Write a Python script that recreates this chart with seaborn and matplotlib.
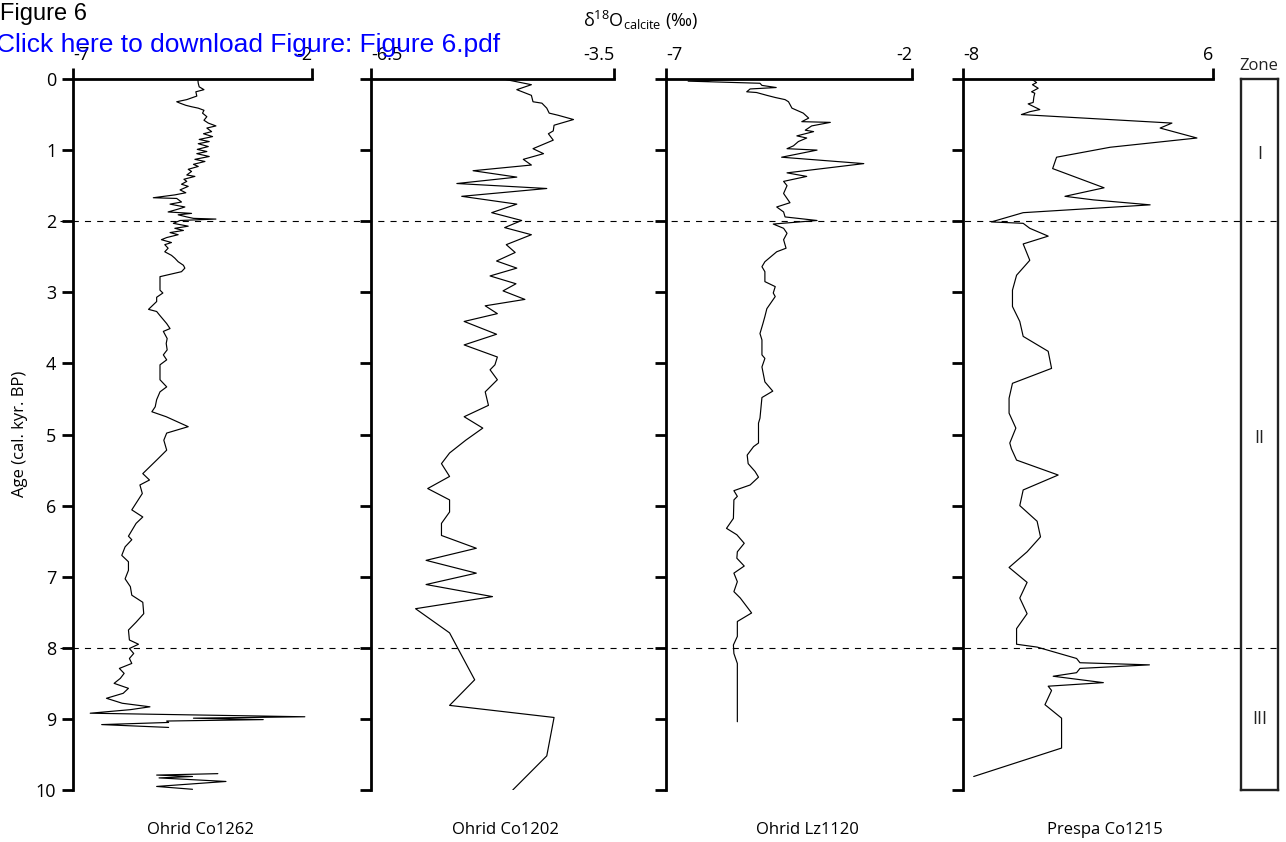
import numpy as np
import pandas as pd
import matplotlib
matplotlib.use("Agg")
import matplotlib.pyplot as plt
import seaborn as sns

# ---------------- data ----------------
co1262_age = [0.00, 0.06, 0.11, 0.15, 0.18, 0.24, 0.29, 0.32, 0.34, 0.37, 0.39, 0.41, 0.44, 0.48, 0.53,
              0.58, 0.62, 0.66, 0.69, 0.74, 0.77, 0.81, 0.85, 0.88, 0.91, 0.95, 0.99, 1.02, 1.05, 1.09,
              1.13, 1.16, 1.20, 1.23, 1.27, 1.30, 1.35, 1.37, 1.41, 1.44, 1.48, 1.51, 1.56, 1.60, 1.63,
              1.67, 1.68, 1.73, 1.76, 1.80, 1.83, 1.87, 1.89, 1.91, 1.94, 1.96, 1.97, 1.99, 2.03, 2.07,
              2.10, 2.13, 2.16, 2.19, 2.23, 2.26, 2.30, 2.33, 2.38, 2.43, 2.48, 2.52, 2.57, 2.62, 2.66,
              2.71, 2.78, 2.85, 2.97, 3.01, 3.07, 3.13, 3.24, 3.27, 3.32, 3.44, 3.51, 3.55, 3.65, 3.72,
              3.81, 3.88, 3.95, 4.02, 4.23, 4.33, 4.40, 4.51, 4.61, 4.68, 4.75, 4.89, 4.98, 5.08, 5.22,
              5.36, 5.55, 5.64, 5.71, 5.83, 6.06, 6.16, 6.25, 6.43, 6.48, 6.58, 6.70, 6.79, 6.91, 7.03,
              7.14, 7.26, 7.36, 7.52, 7.64, 7.75, 7.89, 7.95, 8.01, 8.08, 8.15, 8.22, 8.29, 8.36, 8.43,
              8.50, 8.57, 8.64, 8.71, 8.78, 8.83, 8.87, 8.92, 8.97, 8.99, 9.01, 9.03, 9.05, 9.08, 9.12]
co1262_d18o = [-4.39, -4.38, -4.36, -4.26, -4.43, -4.41, -4.62, -4.83, -4.76, -4.64, -4.52, -4.38, -4.26, -4.29, -4.20,
               -4.26, -4.17, -4.01, -4.20, -4.10, -4.27, -4.08, -4.36, -4.15, -4.38, -4.17, -4.40, -4.20, -4.41, -4.15,
               -4.45, -4.24, -4.48, -4.38, -4.59, -4.52, -4.62, -4.45, -4.68, -4.62, -4.73, -4.59, -4.76, -4.64, -4.87,
               -5.32, -4.83, -4.73, -4.97, -4.66, -4.80, -5.01, -4.52, -4.80, -4.62, -4.48, -4.01, -4.76, -4.90, -4.59,
               -4.87, -4.69, -4.97, -4.80, -5.04, -5.15, -4.94, -5.08, -5.01, -5.08, -4.94, -4.87, -4.80, -4.69, -4.66,
               -4.73, -5.18, -5.18, -5.18, -5.12, -5.25, -5.25, -5.42, -5.25, -5.19, -5.04, -4.97, -5.11, -5.03, -5.05,
               -5.03, -5.11, -5.04, -5.18, -5.18, -5.04, -5.18, -5.25, -5.28, -5.35, -5.05, -4.59, -5.04, -5.10, -5.04,
               -5.25, -5.54, -5.40, -5.60, -5.55, -5.77, -5.54, -5.68, -5.84, -5.77, -5.91, -5.98, -5.84, -5.84, -5.91,
               -5.80, -5.77, -5.54, -5.52, -5.68, -5.84, -5.82, -5.63, -5.82, -5.73, -5.82, -5.77, -6.03, -5.93, -6.01,
               -6.14, -5.84, -5.95, -6.30, -5.97, -5.39, -5.80, -6.64, -2.15, -4.48, -3.02, -5.04, -5.00, -6.40, -5.00]
co1262_base_age = [9.77, 9.79, 9.81, 9.83, 9.88, 9.95, 9.99]
co1262_base_d18o = [-3.97, -5.25, -4.50, -5.20, -3.80, -5.25, -4.50]

co1202_age = [0.00, 0.08, 0.15, 0.23, 0.32, 0.34, 0.41, 0.48, 0.51, 0.57, 0.65, 0.73, 0.77, 0.86, 0.98,
              1.05, 1.13, 1.21, 1.29, 1.38, 1.47, 1.54, 1.65, 1.76, 1.88, 1.99, 2.09, 2.19, 2.33, 2.44,
              2.56, 2.66, 2.77, 2.88, 2.98, 3.10, 3.19, 3.30, 3.41, 3.59, 3.74, 3.91, 4.02, 4.09, 4.23,
              4.40, 4.59, 4.75, 4.91, 5.08, 5.26, 5.41, 5.59, 5.76, 5.92, 6.09, 6.25, 6.42, 6.60, 6.77,
              6.95, 7.11, 7.28, 7.45, 7.79, 8.45, 8.81, 8.98, 9.52, 10.00]
co1202_d18o = [-4.87, -4.52, -4.70, -4.52, -4.50, -4.39, -4.33, -4.30, -4.19, -4.00, -4.24, -4.25, -4.31, -4.25, -4.50,
               -4.37, -4.62, -4.52, -5.24, -4.70, -5.44, -4.33, -5.38, -4.70, -5.01, -4.64, -4.85, -4.52, -4.83, -4.72,
               -4.95, -4.70, -5.03, -4.71, -4.87, -4.60, -5.09, -4.94, -5.35, -4.95, -5.35, -4.94, -4.97, -5.03, -4.94,
               -5.09, -5.05, -5.35, -5.12, -5.33, -5.53, -5.63, -5.53, -5.80, -5.53, -5.53, -5.63, -5.63, -5.20, -5.82,
               -5.20, -5.82, -5.00, -5.95, -5.53, -5.22, -5.53, -4.24, -4.33, -4.75]

lz1120_age = [0.00, 0.03, 0.06, 0.09, 0.12, 0.14, 0.18, 0.19, 0.23, 0.26, 0.29, 0.32, 0.41, 0.48, 0.55,
              0.60, 0.61, 0.66, 0.72, 0.74, 0.80, 0.83, 0.88, 0.94, 0.98, 1.00, 1.10, 1.19, 1.32, 1.37,
              1.44, 1.50, 1.61, 1.74, 1.80, 1.87, 1.94, 1.99, 2.04, 2.10, 2.17, 2.26, 2.38, 2.43, 2.57,
              2.64, 2.71, 2.85, 2.92, 3.01, 3.06, 3.23, 3.34, 3.44, 3.58, 3.67, 3.88, 3.93, 4.05, 4.26,
              4.39, 4.48, 4.77, 4.84, 5.12, 5.17, 5.29, 5.41, 5.52, 5.60, 5.71, 5.79, 5.87, 5.92, 6.18,
              6.32, 6.41, 6.53, 6.65, 6.74, 6.85, 6.95, 7.07, 7.21, 7.30, 7.51, 7.63, 7.84, 7.96, 8.08,
              8.22, 9.04]
lz1120_d18o = [-5.09, -6.55, -5.09, -5.05, -4.76, -5.29, -5.36, -5.16, -4.95, -4.78, -4.58, -4.51, -4.44, -4.21, -4.10,
               -4.24, -3.66, -4.04, -4.17, -4.00, -4.34, -4.14, -4.31, -4.41, -4.54, -3.93, -4.65, -2.98, -4.54, -4.14,
               -4.61, -4.54, -4.61, -4.48, -4.75, -4.61, -4.58, -3.93, -4.82, -4.61, -4.54, -4.61, -4.56, -4.75, -4.99,
               -5.05, -4.99, -4.99, -4.78, -4.82, -4.78, -4.95, -4.99, -5.03, -5.09, -5.05, -5.05, -4.99, -5.05, -4.99,
               -4.83, -5.05, -5.09, -5.12, -5.12, -5.22, -5.35, -5.33, -5.19, -5.12, -5.29, -5.62, -5.55, -5.62, -5.63,
               -5.77, -5.56, -5.41, -5.55, -5.56, -5.41, -5.62, -5.55, -5.62, -5.49, -5.26, -5.55, -5.55, -5.63, -5.62,
               -5.55, -5.55]

co1215_age = [0.00, 0.05, 0.08, 0.13, 0.18, 0.20, 0.25, 0.33, 0.35, 0.43, 0.46, 0.50, 0.62, 0.69, 0.83,
              0.96, 1.10, 1.26, 1.53, 1.65, 1.70, 1.77, 1.88, 2.01, 2.03, 2.10, 2.21, 2.32, 2.55, 2.76,
              2.97, 3.20, 3.41, 3.62, 3.83, 4.07, 4.28, 4.49, 4.70, 4.91, 5.12, 5.20, 5.36, 5.57, 5.78,
              6.00, 6.22, 6.44, 6.65, 6.87, 7.08, 7.30, 7.52, 7.73, 7.95, 7.99, 8.15, 8.21, 8.24, 8.29,
              8.35, 8.40, 8.49, 8.54, 8.60, 8.80, 8.99, 9.41, 9.81]
co1215_d18o = [-4.16, -3.88, -4.11, -3.79, -4.16, -3.98, -4.03, -4.07, -4.35, -3.70, -4.26, -4.73, 3.70, 3.04, 5.10,
               0.24, -2.76, -2.98, -0.10, -2.29, -0.70, 2.48, -4.63, -6.41, -4.63, -4.26, -3.23, -4.63, -4.26, -5.00,
               -5.23, -5.23, -4.82, -4.63, -3.23, -3.04, -5.23, -5.42, -5.42, -5.04, -5.38, -5.29, -5.00, -2.67, -4.63,
               -4.82, -3.85, -3.66, -4.41, -5.42, -4.41, -4.82, -4.41, -5.00, -5.00, -3.85, -1.64, -1.45, 2.44, -1.45,
               -1.64, -2.95, -0.14, -3.23, -3.04, -3.41, -2.48, -2.48, -7.40]

panel_names = ["Ohrid Co1262", "Ohrid Co1202", "Ohrid Lz1120", "Prespa Co1215"]
panel_xlims = [(-7, -2), (-6.5, -3.5), (-7, -2), (-8, 6)]
panel_xticklabels = [["-7", "-2"], ["-6.5", "-3.5"], ["-7", "-2"], ["-8", "6"]]
age_ticks = list(range(0, 11))
zone_names = ["I", "II", "III"]
zone_label_age = [1.05, 5.05, 9.0]
zone_bounds = [2, 8]

# ---------------- style ----------------
sns.set_theme(style="white")
plt.rcParams["font.family"] = ["Open Sans", "DejaVu Sans"]
plt.rcParams["axes.unicode_minus"] = False
plt.rcParams["mathtext.fontset"] = "custom"
plt.rcParams["mathtext.rm"] = "Open Sans"
plt.rcParams["mathtext.it"] = "Open Sans"
plt.rcParams["mathtext.bf"] = "Open Sans:bold"

W, H = 1286, 842
fig = plt.figure(figsize=(W / 100, H / 100), dpi=100)

def fx(px):
    return px / W

def fy(py):
    return 1 - py / H

top_px, bot_px = 79, 790
ax_bottom = fy(bot_px)
ax_height = (bot_px - top_px) / H
panel_px = [(73, 312), (371, 614), (666, 912), (963, 1213)]
label_px = [200, 505, 807, 1105]

dfs = []
d1 = pd.DataFrame({"age": co1262_age + co1262_base_age,
                   "d18o": co1262_d18o + co1262_base_d18o,
                   "seg": [0] * len(co1262_age) + [1] * len(co1262_base_age)})
dfs.append(d1)
dfs.append(pd.DataFrame({"age": co1202_age, "d18o": co1202_d18o, "seg": 0}))
dfs.append(pd.DataFrame({"age": lz1120_age, "d18o": lz1120_d18o, "seg": 0}))
dfs.append(pd.DataFrame({"age": co1215_age, "d18o": co1215_d18o, "seg": 0}))

for i, (df, (l, r)) in enumerate(zip(dfs, panel_px)):
    ax = fig.add_axes([fx(l), ax_bottom, (r - l) / W, ax_height])
    ax.set_facecolor("none")
    sns.lineplot(data=df, x="d18o", y="age", units="seg", estimator=None,
                 sort=False, orient="y", color="black", linewidth=0.85, ax=ax)
    ax.set_xlim(*panel_xlims[i])
    ax.set_ylim(10, 0)
    ax.set_xlabel("")
    ax.set_ylabel("")
    for s in ["right", "bottom"]:
        ax.spines[s].set_visible(False)
    for s in ["top", "left"]:
        ax.spines[s].set_linewidth(2.0)
        ax.spines[s].set_color("black")
    ax.xaxis.tick_top()
    ax.set_xticks(list(panel_xlims[i]))
    ax.set_xticklabels(panel_xticklabels[i])
    ax.set_yticks(age_ticks)
    ax.tick_params(axis="x", direction="out", length=8, width=2, labelsize=13,
                   pad=3, colors="black", top=True, bottom=False)
    ax.tick_params(axis="y", direction="out", length=8, width=2, labelsize=13,
                   pad=4, colors="black", left=True, labelleft=(i == 0))
    xl = ax.get_xticklabels()
    xl[0].set_horizontalalignment("left")
    xl[1].set_horizontalalignment("right")
    ax.grid(False)
    fig.text(fx(label_px[i]), fy(830), panel_names[i], ha="center", va="center",
             fontsize=12, color="black")

# zone column
zax = fig.add_axes([fx(1241), ax_bottom, 37 / W, ax_height])
zax.set_xlim(0, 1)
zax.set_ylim(10, 0)
zax.set_xticks([])
zax.set_yticks([])
for s in zax.spines.values():
    s.set_visible(True)
    s.set_linewidth(1.7)
    s.set_color("#222222")
for name, a in zip(zone_names, zone_label_age):
    zax.text(0.5, a, name, ha="center", va="center", fontsize=13, color="#222222")
fig.text(fx(1259), fy(66), "Zone", ha="center", va="center", fontsize=12, color="#222222")

# dashed zone boundaries across the figure
oax = fig.add_axes([fx(60), ax_bottom, (1282 - 60) / W, ax_height])
oax.set_ylim(10, 0)
oax.set_xlim(0, 1)
oax.axis("off")
oax.patch.set_alpha(0)
for b in zone_bounds:
    oax.axhline(b, color="black", linewidth=0.8, linestyle=(0, (5.5, 5.5)))

# axis labels / title
fig.text(fx(20), fy(434), "Age (cal. kyr. BP)", rotation=90, ha="center", va="center",
         fontsize=12, color="black")
fig.text(fx(641), fy(20), r"δ$^{18}$O$_{\mathrm{calcite}}$ (‰)", ha="center", va="center",
         fontsize=13, color="black")

# header overlay text
fig.text(fx(0), fy(14), "Figure 6", ha="left", va="center", fontsize=17,
         family=["Liberation Sans", "DejaVu Sans"], color="black")
fig.text(fx(-4), fy(45), "Click here to download Figure: Figure 6.pdf", ha="left", va="center",
         fontsize=19, family=["Liberation Sans", "DejaVu Sans"], color="#0000ff")

fig.savefig("out.png", dpi=100)
